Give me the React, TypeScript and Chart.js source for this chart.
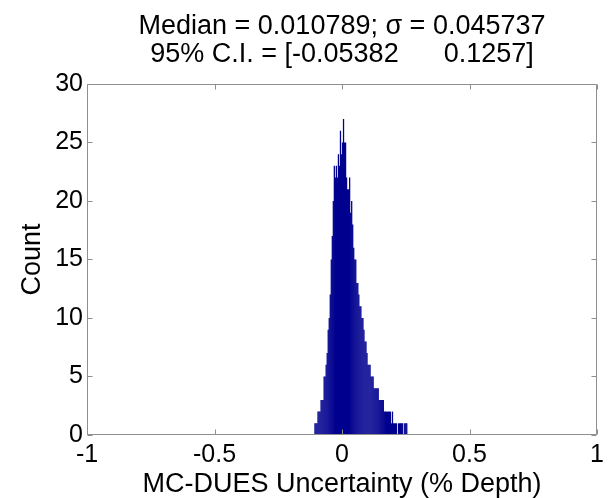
import { useEffect, useRef } from "react";
import { Chart, registerables } from "chart.js";

Chart.register(...registerables);

// Histogram definition
const binLowEdge = -0.108;
const binWidth = 0.004;
const counts = [
  1, 1, 1, 2, 2, 2, 3, 3, 3, 5,
  5, 6, 7, 9, 10, 12, 15, 17, 20, 23,
  22, 23, 22, 24, 23, 26, 24, 25, 27, 25,
  25, 22, 21, 21, 22, 19, 20, 18, 16, 15,
  15, 13, 13, 12, 11, 11, 10, 10, 9, 8,
  8, 7, 6, 6, 6, 5, 5, 5, 4, 4,
  4, 4, 4, 3, 3, 3, 3, 3, 2, 2,
  2, 2, 2, 2, 2, 1, 2, 1, 1, 1,
  1, 0, 1, 1, 1, 1, 1, 0, 1, 1,
  1,
];

const xTickValues = [-1, -0.5, 0, 0.5, 1];
const xTickLabels = ["-1", "-0.5", "0", "0.5", "1"];
const yTickValues = [0, 5, 10, 15, 20, 25, 30];

const titleLines = [
  "Median = 0.010789; \u03C3 = 0.045737",
  "95% C.I. = [-0.05382      0.1257]",
];
const xLabel = "MC-DUES Uncertainty (% Depth)";
const yLabel = "Count";

const FONT = "'Liberation Sans', Arial, Helvetica, sans-serif";
const BAR_COLOR = "#00008F";
const AXIS_COLOR = "#8f8f8f";

const boxPlugin = {
  id: "matlabBox",
  afterDatasetsDraw(chart: any) {
    const { ctx, chartArea: a, scales } = chart;
    const x = scales.x;
    const y = scales.y;
    const L = Math.round(a.left) + 0.5;
    const R = Math.round(a.right) - 0.5;
    const T = Math.round(a.top) + 0.5;
    const B = Math.round(a.bottom) - 0.5;
    const tl = 5;
    ctx.save();
    ctx.strokeStyle = AXIS_COLOR;
    ctx.lineWidth = 1;
    ctx.beginPath();
    ctx.rect(L, T, R - L, B - T);
    for (const v of xTickValues) {
      const px = Math.round(x.getPixelForValue(v)) + 0.5;
      ctx.moveTo(px, B);
      ctx.lineTo(px, B - tl);
      ctx.moveTo(px, T);
      ctx.lineTo(px, T + tl);
    }
    for (const v of yTickValues) {
      const py = Math.round(y.getPixelForValue(v)) + 0.5;
      ctx.moveTo(L, py);
      ctx.lineTo(L + tl, py);
      ctx.moveTo(R, py);
      ctx.lineTo(R - tl, py);
    }
    ctx.stroke();
    ctx.restore();
  },
};

export default function App() {
  const ref = useRef<HTMLCanvasElement | null>(null);

  useEffect(() => {
    if (!ref.current) return;
    const points = counts.map((c, i) => ({
      x: binLowEdge + binWidth * (i + 0.5),
      y: c,
    }));
    const chart = new Chart(ref.current, {
      type: "bar",
      data: {
        datasets: [
          {
            data: points as any,
            backgroundColor: BAR_COLOR,
            borderWidth: 0,
            barPercentage: 1.25,
            categoryPercentage: 1,
          },
        ],
      },
      options: {
        animation: false,
        responsive: false,
        devicePixelRatio: 1,
        layout: { padding: { left: 0, right: 14, top: 0, bottom: 0 } },
        plugins: {
          legend: { display: false },
          tooltip: { enabled: false },
          title: {
            display: true,
            fullSize: false,
            text: titleLines,
            color: "#000",
            font: { size: 27, family: FONT, weight: "normal", lineHeight: 1.04 },
            padding: { top: 12.5, bottom: 15.3 },
          },
        },
        scales: {
          x: {
            type: "linear",
            min: -1,
            max: 1,
            offset: false,
            grid: { display: false, drawTicks: false },
            border: { display: false },
            afterBuildTicks: (s: any) => {
              s.ticks = xTickValues.map((v) => ({ value: v }));
            },
            ticks: {
              color: "#000",
              padding: 5,
              maxRotation: 0,
              autoSkip: false,
              font: { size: 25, family: FONT },
              callback: (v: any) => {
                const i = xTickValues.indexOf(Number(v));
                return i >= 0 ? xTickLabels[i] : "";
              },
            },
            title: {
              display: true,
              text: xLabel,
              color: "#000",
              padding: 0,
              font: { size: 27, family: FONT, lineHeight: 1.0 },
            },
            afterFit: (s: any) => {
              s.height = 63;
            },
          },
          y: {
            min: 0,
            max: 30,
            grid: { display: false, drawTicks: false },
            border: { display: false },
            afterBuildTicks: (s: any) => {
              s.ticks = yTickValues.map((v) => ({ value: v }));
            },
            ticks: {
              color: "#000",
              padding: 4,
              font: { size: 25, family: FONT },
            },
            title: {
              display: true,
              text: yLabel,
              color: "#000",
              padding: { top: 19.5, bottom: 0 },
              font: { size: 27, family: FONT, lineHeight: 1.0 },
            },
            afterFit: (s: any) => {
              s.width = 87;
            },
          },
        },
      },
      plugins: [boxPlugin],
    });
    return () => chart.destroy();
  }, []);

  return (
    <div style={{ position: "absolute", left: 0, top: 0, width: 611, height: 498, background: "#fff" }}>
      <canvas ref={ref} width={611} height={498} style={{ width: 611, height: 498, display: "block" }} />
    </div>
  );
}
